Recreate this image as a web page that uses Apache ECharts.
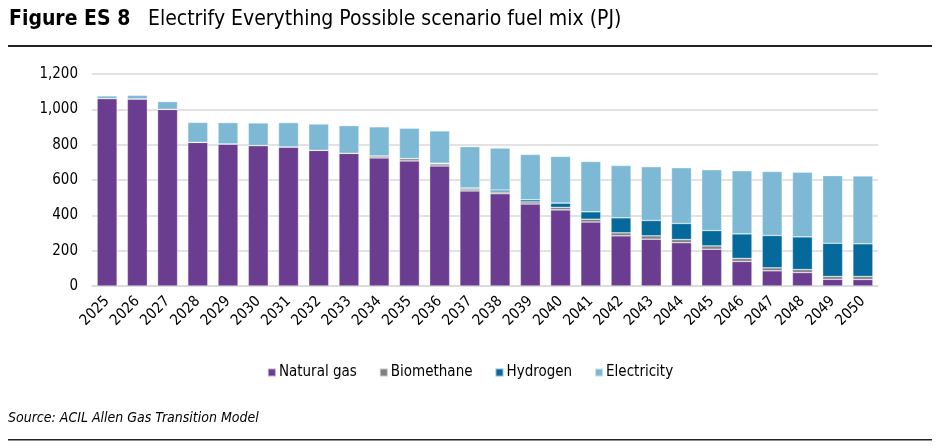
<!DOCTYPE html>
<html lang="en">
<head>
    <meta charset="UTF-8">
    <title>Electrify Everything Possible scenario fuel mix</title>
    <script src="https://cdn.jsdelivr.net/npm/echarts@6/dist/echarts.min.js"></script>
    <style>
        html, body { margin: 0; padding: 0; background: #fff; }
        #chart { width: 940px; height: 448px; }
    </style>
</head>
<body>
<div id="chart"></div>
<script>
    // years on the x axis
    let years = ['2025', '2026', '2027', '2028', '2029', '2030', '2031', '2032', '2033', '2034', '2035', '2036', '2037',
        '2038', '2039', '2040', '2041', '2042', '2043', '2044', '2045', '2046', '2047', '2048', '2049', '2050'];
    // PJ
    let naturalGas = [1061, 1059, 1000, 813, 804, 795, 787, 768, 751, 725, 708, 679, 538,
        522, 464, 431, 362, 284, 265, 245, 208, 139, 86, 76, 38, 37];
    let biomethane = [0, 0, 0, 0, 0, 0, 0, 0, 0, 11, 13, 12, 11,
        10, 12, 14, 16, 17, 19, 18, 19, 17, 17, 17, 16, 17];
    let hydrogen = [0, 0, 0, 0, 0, 0, 0, 0, 0, 0, 0, 4, 6,
        11, 12, 24, 42, 85, 87, 91, 87, 139, 183, 185, 188, 185];
    let electricity = [15, 20, 44, 113, 121, 128, 138, 149, 157, 165, 172, 183, 234,
        238, 257, 265, 285, 296, 304, 315, 344, 357, 362, 366, 383, 384];
    let yTicks = [0, 200, 400, 600, 800, 1000, 1200];

    let font = "'Liberation Sans Narrow', 'Arial Narrow', 'DejaVu Sans Condensed', sans-serif";

    function stackBar(name, data, color) {
        return {
            name: name,
            type: 'bar',
            stack: 'fuel',
            barWidth: 20,
            data: data,
            itemStyle: {color: color, borderColor: 'rgba(255,255,255,0.55)', borderWidth: 0.6}
        };
    }

    let myChart = echarts.init(document.getElementById('chart'));
    let option = {
        animation: false,
        textStyle: {fontFamily: font},
        grid: {left: 92, right: 62, top: 74, bottom: 162},
        legend: {
            data: ['Natural gas', 'Biomethane', 'Hydrogen', 'Electricity'],
            top: 360,
            left: 'center',
            itemWidth: 8,
            itemHeight: 8,
            itemGap: 22,
            icon: 'rect',
            textStyle: {fontFamily: font, fontSize: 15, color: '#000', padding: [0, 0, 0, -2]}
        },
        xAxis: {
            type: 'category',
            data: years,
            axisLine: {lineStyle: {color: '#d9d9d9', width: 1.5}},
            axisTick: {show: false},
            axisLabel: {rotate: 45, fontSize: 15, color: '#000', margin: 13, interval: 0, fontFamily: font}
        },
        yAxis: {
            type: 'value',
            min: yTicks[0],
            max: yTicks[yTicks.length - 1],
            interval: 200,
            axisLine: {show: false},
            axisTick: {show: false},
            splitLine: {lineStyle: {color: '#d9d9d9', width: 1.5}},
            axisLabel: {
                fontSize: 15, color: '#000', margin: 14, fontFamily: font,
                formatter: function (v) {
                    return v.toLocaleString('en-US');
                }
            }
        },
        graphic: [
            {type: 'text', left: 9, top: 9, style: {text: 'Figure ES 8', font: 'bold 21px ' + font, fill: '#000'}},
            {type: 'text', left: 148, top: 9, style: {text: 'Electrify Everything Possible scenario fuel mix (PJ)', font: '21px ' + font, fill: '#000'}},
            {type: 'rect', shape: {x: 8, y: 45, width: 924, height: 2}, style: {fill: '#222'}},
            {type: 'text', left: 8, top: 411, style: {text: 'Source: ACIL Allen Gas Transition Model', font: 'italic 14px ' + font, fill: '#000'}},
            {type: 'rect', shape: {x: 8, y: 439, width: 924, height: 1.5}, style: {fill: '#222'}}
        ],
        series: [
            stackBar('Natural gas', naturalGas, '#6a3d90'),
            stackBar('Biomethane', biomethane, '#808080'),
            stackBar('Hydrogen', hydrogen, '#05699c'),
            stackBar('Electricity', electricity, '#7db9d4')
        ]
    };
    myChart.setOption(option);
</script>
</body>
</html>
